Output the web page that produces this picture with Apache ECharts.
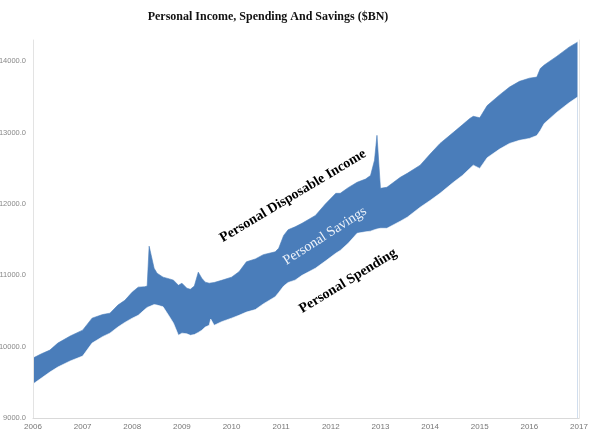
<!DOCTYPE html>
<html>
<head>
<meta charset="utf-8">
<script src="https://cdn.jsdelivr.net/npm/echarts@6/dist/echarts.min.js"></script>
<style>
html,body{margin:0;padding:0;background:#fff;}
#c{width:593px;height:438px;}
</style>
</head>
<body>
<div id="c"></div>
<script>
var title = 'Personal Income, Spending And Savings ($BN)';
var yearTicks = [2006, 2007, 2008, 2009, 2010, 2011, 2012, 2013, 2014, 2015, 2016, 2017];
var dates = [2006.00, 2006.17, 2006.34, 2006.50, 2006.75, 2007.00, 2007.19, 2007.40, 2007.55, 2007.71, 2007.85,
  2008.00, 2008.12, 2008.25, 2008.30, 2008.34, 2008.44, 2008.50, 2008.62, 2008.75, 2008.83, 2008.93,
  2009.00, 2009.10, 2009.17, 2009.25, 2009.33, 2009.40, 2009.47, 2009.55, 2009.58, 2009.65, 2009.80,
  2010.00, 2010.15, 2010.30, 2010.48, 2010.64, 2010.88, 2010.95, 2011.05, 2011.14, 2011.28, 2011.42, 2011.69, 2011.89,
  2012.10, 2012.19, 2012.35, 2012.53, 2012.70, 2012.80, 2012.88, 2012.93, 2013.00, 2013.13, 2013.40, 2013.54, 2013.80,
  2014.00, 2014.20, 2014.47, 2014.65, 2014.80, 2014.87, 2015.00, 2015.15, 2015.40, 2015.60, 2015.80,
  2016.00, 2016.15, 2016.22, 2016.30, 2016.55, 2016.80, 2016.97];
var income = [9840, 9900, 9952, 10050, 10150, 10232, 10400, 10450, 10470, 10583, 10650,
  10765, 10835, 10840, 10850, 11409, 11100, 11030, 10975, 10950, 10933, 10860,
  10890, 10820, 10805, 10850, 11045, 10960, 10905, 10890, 10890, 10900, 10930,
  10975, 11050, 11190, 11230, 11290, 11330, 11380, 11560, 11640, 11680, 11730, 11840, 12000,
  12150, 12150, 12230, 12305, 12350, 12400, 12613, 12963, 12220, 12235, 12375, 12430, 12545,
  12700, 12850, 13005, 13110, 13200, 13230, 13210, 13380, 13530, 13640, 13720,
  13765, 13780, 13900, 13950, 14070, 14200, 14270];
var spending = [9476, 9560, 9644, 9714, 9800, 9868, 10050, 10140, 10190, 10275, 10340,
  10400, 10440, 10520, 10550, 10570, 10590, 10583, 10560, 10420, 10330, 10160,
  10190, 10180, 10160, 10170, 10200, 10230, 10275, 10300, 10387, 10300, 10350,
  10400, 10440, 10485, 10520, 10600, 10700, 10760, 10850, 10900, 10933, 11000, 11100, 11200,
  11310, 11350, 11450, 11590, 11610, 11620, 11640, 11650, 11660, 11660, 11760, 11815, 11955,
  12050, 12150, 12305, 12400, 12500, 12545, 12500, 12650, 12770, 12850, 12893,
  12920, 12960, 13030, 13130, 13285, 13420, 13500];

var incomeData = dates.map(function (d, i) { return [d, income[i]]; });
var spendingData = dates.map(function (d, i) { return [d, spending[i]]; });

var chart = echarts.init(document.getElementById('c'), null, {renderer: 'canvas'});
var serif = '"Liberation Serif", "DejaVu Serif", serif';
var centered = {align: 'center', verticalAlign: 'middle', textAlign: 'center', textVerticalAlign: 'middle'};
function txt(x, y, rot, text, font, fill) {
  return {type: 'text', x: x, y: y, rotation: rot, z: 100,
    style: Object.assign({text: text, font: font, fill: fill}, centered)};
}
chart.setOption({
  animation: false,
  backgroundColor: '#ffffff',
  title: {
    text: title,
    left: 263, top: 6, textAlign: 'center',
    textStyle: {fontFamily: serif, fontWeight: 'bold', fontSize: 12, color: '#111'}
  },
  grid: {left: 33, right: 14, top: 40, bottom: 20, containLabel: false, outerBoundsMode: 'none'},
  xAxis: {
    type: 'value', min: 2006, max: 2017, interval: 1, z: 10,
    axisLine: {show: true, lineStyle: {color: '#d9d9d9', width: 1}},
    axisTick: {show: false},
    splitLine: {show: false},
    axisLabel: {
      color: '#777', fontSize: 8, fontFamily: '"Liberation Sans", sans-serif', margin: 5,
      formatter: function (v) { return yearTicks.indexOf(v) >= 0 ? String(v) : ''; }
    }
  },
  yAxis: [{
    type: 'value', min: 9000, max: 14300, interval: 1000, z: 10,
    axisLine: {show: true, lineStyle: {color: '#e3e3e3', width: 1}},
    axisTick: {show: false},
    splitLine: {show: false},
    axisLabel: {
      color: '#888', fontSize: 7.5, fontFamily: '"Liberation Sans", sans-serif', margin: 7,
      showMaxLabel: false,
      formatter: function (v) { return v % 1000 === 0 ? v.toFixed(1) : ''; }
    }
  }, {
    type: 'value', min: 9000, max: 14300, position: 'right', z: 10,
    axisLine: {show: true, lineStyle: {color: '#e6e6e6', width: 1}},
    axisTick: {show: false}, axisLabel: {show: false}, splitLine: {show: false}
  }],
  series: [{
    name: 'Personal Disposable Income', type: 'line', data: incomeData, z: 2,
    symbol: 'none', lineStyle: {width: 0.6, color: '#4a7dba'},
    areaStyle: {color: '#4a7dba', opacity: 1, origin: 'start'}, silent: true
  }, {
    name: 'Personal Spending', type: 'line', data: spendingData, z: 3,
    symbol: 'none', lineStyle: {width: 0.6, color: '#ffffff'},
    areaStyle: {color: '#ffffff', opacity: 1, origin: 'start'}, silent: true
  }],
  graphic: [
    txt(293, 196, 0.54, 'Personal Disposable Income', 'bold 14px ' + serif, '#000'),
    txt(325, 236, 0.57, 'Personal Savings', '14px ' + serif, '#eef3fa'),
    txt(348, 281, 0.55, 'Personal Spending', 'bold 14px ' + serif, '#000')
  ]
});
</script>
</body>
</html>
